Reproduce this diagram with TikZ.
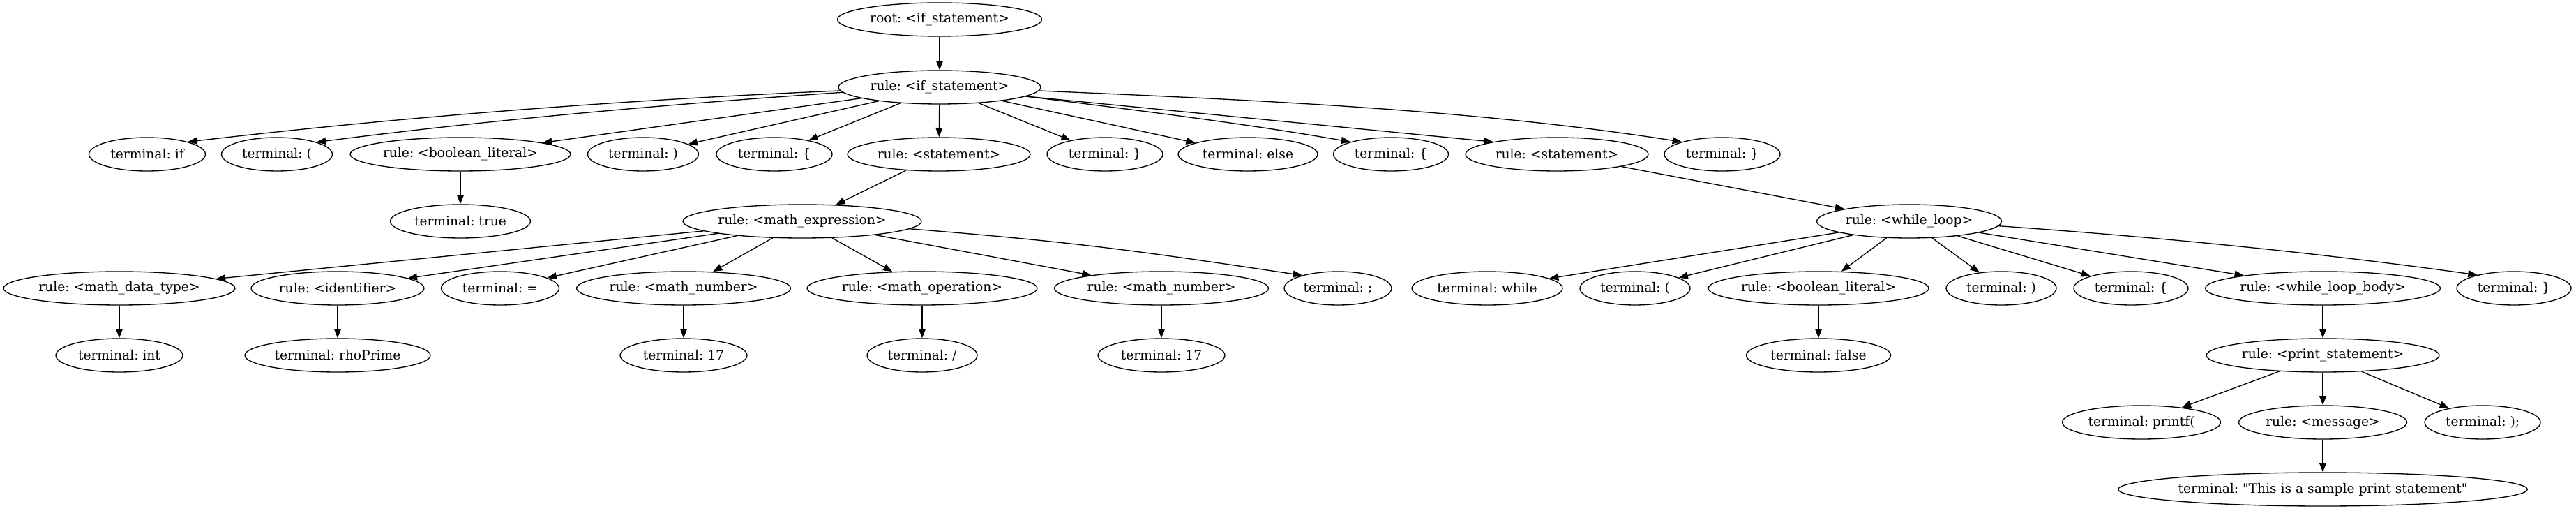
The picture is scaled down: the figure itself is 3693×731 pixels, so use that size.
\documentclass[tikz,border=0pt]{standalone}
\usepackage{fontspec}
\setmainfont{DejaVu Serif}[Ligatures=TeXOff]
\frenchspacing
\usetikzlibrary{shapes.geometric,arrows.meta}
\begin{document}
\begin{tikzpicture}[x=1pt,y=1pt,
  nd/.style={ellipse, draw, line width=1.33pt, inner sep=0pt, minimum height=48pt,
             font=\fontsize{18.67}{22}\selectfont},
  w/.style={minimum width=#1pt},
  edge/.style={line width=1.33pt, -{Triangle[length=13.3pt,width=10pt]}}]
\useasboundingbox (0,0) rectangle (3693,731);
% level 0
\node[nd,w=293] (root) at (1347,703) {root: <if\_statement>};
% level 1
\node[nd,w=290] (ruleif) at (1347,606) {rule: <if\_statement>};
% level 2
\node[nd,w=167] (tif)   at (211,510)  {terminal: if};
\node[nd,w=159] (tlp)   at (397,510)  {terminal: (};
\node[nd,w=316] (bool1) at (660,510)  {rule: <boolean\_literal>};
\node[nd,w=159] (trp)   at (922,510)  {terminal: )};
\node[nd,w=166] (tlb)   at (1110,510) {terminal: \{};
\node[nd,w=262] (stmt1) at (1346,510) {rule: <statement>};
\node[nd,w=166] (trb)   at (1584,510) {terminal: \}};
\node[nd,w=200] (telse) at (1789,510) {terminal: else};
\node[nd,w=165] (tlbb)  at (1994,510) {terminal: \{};
\node[nd,w=262] (stmt2) at (2232,510) {rule: <statement>};
\node[nd,w=166] (trbb)  at (2469,510) {terminal: \}};
% level 3
\node[nd,w=201] (ttrue) at (660,414)  {terminal: true};
\node[nd,w=342] (mexpr) at (1150,414) {rule: <math\_expression>};
\node[nd,w=265] (wloop) at (2737,414) {rule: <while\_loop>};
% level 4
\node[nd,w=332] (mdt)    at (171,318)  {rule: <math\_data\_type>};
\node[nd,w=248] (ident)  at (484,318)  {rule: <identifier>};
\node[nd,w=169] (teq)    at (717,318)  {terminal: =};
\node[nd,w=307] (mnuma)  at (980,318)  {rule: <math\_number>};
\node[nd,w=330] (mop)    at (1322,318) {rule: <math\_operation>};
\node[nd,w=307] (mnumb)  at (1665,318) {rule: <math\_number>};
\node[nd,w=154] (tsemi)  at (1918,318) {terminal: ;};
\node[nd,w=216] (twhile) at (2132,318) {terminal: while};
\node[nd,w=158] (tlpb)   at (2344,318) {terminal: (};
\node[nd,w=316] (boolb)  at (2607,318) {rule: <boolean\_literal>};
\node[nd,w=158] (trpb)   at (2869,318) {terminal: )};
\node[nd,w=164] (tlbc)   at (3055,318) {terminal: \{};
\node[nd,w=337] (wlb)    at (3330,318) {rule: <while\_loop\_body>};
\node[nd,w=164] (trbc)   at (3604,318) {terminal: \}};
% level 5
\node[nd,w=182] (tint)    at (171,222)  {terminal: int};
\node[nd,w=266] (trho)    at (484,222)  {terminal: rhoPrime};
\node[nd,w=182] (tsevena) at (980,222)  {terminal: 17};
\node[nd,w=158] (tslash)  at (1322,222) {terminal: /};
\node[nd,w=182] (tsevenb) at (1665,222) {terminal: 17};
\node[nd,w=207] (tfalse)  at (2607,222) {terminal: false};
\node[nd,w=334] (pstmt)   at (3330,222) {rule: <print\_statement>};
% level 6
\node[nd,w=227] (tprintf) at (3070,126) {terminal: printf(};
\node[nd,w=241] (msg)     at (3330,126) {rule: <message>};
\node[nd,w=166] (tclose)  at (3559,126) {terminal: );};
% level 7
\node[nd,w=574] (tstr) at (3330,30) {terminal: "This is a sample print statement"};

% edges
\draw[edge] (root) -- (ruleif);
\draw[edge] (ruleif.182) .. controls +(-310,-13) and +(310,36) .. (tif.17);
\draw[edge] (ruleif.183) .. controls +(-250,-17) and +(250,32) .. (tlp.17);
\draw[edge] (ruleif) -- (bool1);
\draw[edge] (ruleif) -- (trp);
\draw[edge] (ruleif) -- (tlb);
\draw[edge] (ruleif) -- (stmt1);
\draw[edge] (ruleif) -- (trb);
\draw[edge] (ruleif) -- (telse);
\draw[edge] (ruleif.354) .. controls +(159,-20) and +(-148,26) .. (tlbb.163);
\draw[edge] (ruleif.354) -- (stmt2.169);
\draw[edge] (ruleif.358) .. controls +(300,-13) and +(-300,47) .. (trbb.163);
\draw[edge] (bool1) -- (ttrue);
\draw[edge] (stmt1) -- (mexpr);
\draw[edge] (stmt2) -- (wloop);
\foreach \c in {mdt,ident,teq,mnuma,mop,mnumb}
  \draw[edge] (mexpr) -- (\c);
\draw[edge] (mexpr.356) .. controls +(250,-20) and +(-230,34) .. (tsemi.160);
\foreach \c in {twhile,tlpb,boolb,trpb,tlbc,wlb}
  \draw[edge] (wloop) -- (\c);
\draw[edge] (wloop.357) .. controls +(230,-16) and +(-230,32) .. (trbc.160);
\draw[edge] (mdt) -- (tint);
\draw[edge] (ident) -- (trho);
\draw[edge] (mnuma) -- (tsevena);
\draw[edge] (mop) -- (tslash);
\draw[edge] (mnumb) -- (tsevenb);
\draw[edge] (boolb) -- (tfalse);
\draw[edge] (wlb) -- (pstmt);
\draw[edge] (pstmt) -- (tprintf);
\draw[edge] (pstmt) -- (msg);
\draw[edge] (pstmt) -- (tclose);
\draw[edge] (msg) -- (tstr);
\end{tikzpicture}
\end{document}
